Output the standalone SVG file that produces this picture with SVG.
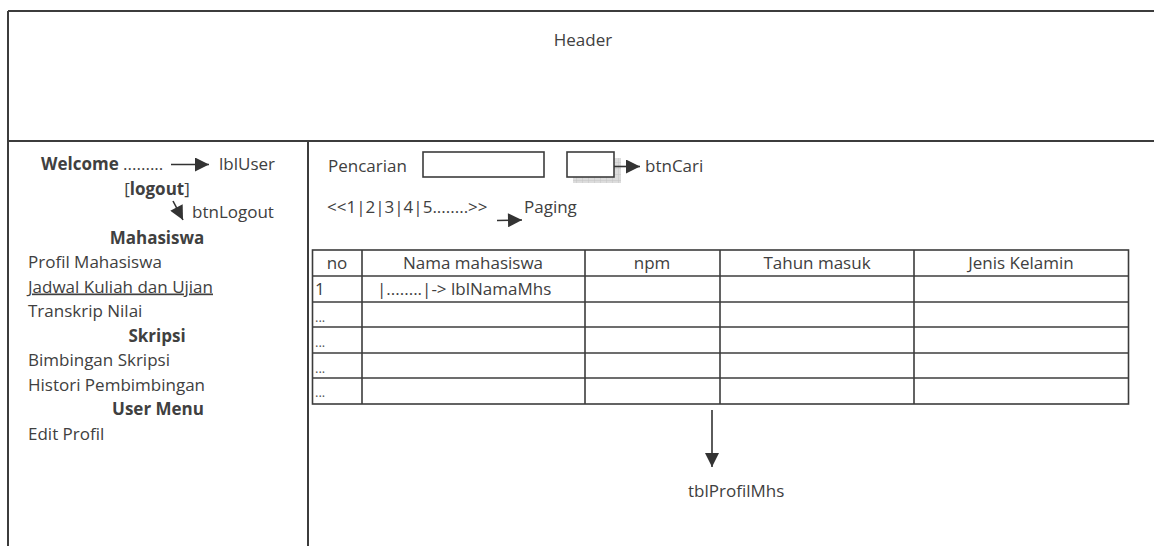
<svg xmlns="http://www.w3.org/2000/svg" width="1154" height="546" viewBox="0 0 1154 546">
<style>
text{font-family:"Open Sans","Liberation Sans",sans-serif;font-size:17px;fill:#404040}
.b{font-weight:bold}
.m{text-anchor:middle}
.ln{stroke:#3c3c3c;stroke-width:2;fill:none}
.tb{stroke:#3c3c3c;stroke-width:1.6;fill:none}
.ar{stroke:#333;stroke-width:1.6;fill:none}
.dots{font-size:13px;fill:#555}
</style>
<defs>
<marker id="ahL" viewBox="0 0 10 10" refX="10" refY="5" markerWidth="16" markerHeight="14" markerUnits="userSpaceOnUse" orient="auto">
<path d="M0,0 L10,5 L0,10 Z" fill="#333"/>
</marker>
<pattern id="hatch" width="6" height="6" patternUnits="userSpaceOnUse">
<rect width="6" height="6" fill="#dcdcdc"/>
<path d="M0,0 H6 M0,0 V6" stroke="#c4c4c4" stroke-width="1"/>
</pattern>
</defs>

<g id="frame">
<line class="ln" x1="8" y1="11" x2="1154" y2="11"/>
<line class="ln" x1="8" y1="11" x2="8" y2="546"/>
<line class="ln" x1="8" y1="141" x2="1154" y2="141"/>
<line class="ln" x1="308" y1="141" x2="308" y2="546"/>
</g>

<g id="header">
<text class="m" x="583" y="46">Header</text>
</g>

<g id="sidebar">
<text x="41" y="170"><tspan class="b">Welcome</tspan> .........</text>
<text x="219" y="170">lblUser</text>
<text class="m" x="157" y="194.5">[<tspan class="b">logout</tspan>]</text>
<text x="192" y="218">btnLogout</text>
<text class="b m" x="157" y="243.5">Mahasiswa</text>
<text x="28" y="268">Profil Mahasiswa</text>
<text x="28" y="292.5" text-decoration="underline">Jadwal Kuliah dan Ujian</text>
<text x="28" y="317">Transkrip Nilai</text>
<text class="b m" x="157" y="341.5">Skripsi</text>
<text x="28" y="366">Bimbingan Skripsi</text>
<text x="28" y="390.5">Histori Pembimbingan</text>
<text class="b m" x="158" y="415">User Menu</text>
<text x="28" y="439.5">Edit Profil</text>
</g>

<g id="search">
<text x="328" y="172">Pencarian</text>
<rect x="423" y="152" width="121" height="25" fill="#fff" stroke="#3c3c3c" stroke-width="1.6"/>
<rect x="573" y="158" width="48" height="25" fill="url(#hatch)"/>
<rect x="567" y="152" width="47" height="25" fill="#fff" stroke="#3c3c3c" stroke-width="1.6"/>
<text x="645" y="172">btnCari</text>
</g>

<g id="paging">
<text x="327" y="213">&lt;&lt;1|2|3|4|5........&gt;&gt;</text>
<text x="524" y="213">Paging</text>
</g>

<g id="table">
<rect class="tb" x="312.5" y="250" width="816" height="154"/>
<line class="tb" x1="312" y1="276" x2="1129" y2="276"/>
<line class="tb" x1="312" y1="302" x2="1129" y2="302"/>
<line class="tb" x1="312" y1="327" x2="1129" y2="327"/>
<line class="tb" x1="312" y1="353" x2="1129" y2="353"/>
<line class="tb" x1="312" y1="378" x2="1129" y2="378"/>
<line class="tb" x1="362" y1="250" x2="362" y2="404"/>
<line class="tb" x1="585" y1="250" x2="585" y2="404"/>
<line class="tb" x1="720" y1="250" x2="720" y2="404"/>
<line class="tb" x1="914" y1="250" x2="914" y2="404"/>
<text class="m" x="337" y="268.5">no</text>
<text class="m" x="473" y="268.5">Nama mahasiswa</text>
<text class="m" x="652" y="268.5">npm</text>
<text class="m" x="817" y="268.5">Tahun masuk</text>
<text class="m" x="1021" y="268.5">Jenis Kelamin</text>
<text x="315" y="295">1</text>
<text x="377" y="295">|........|-&gt; lblNamaMhs</text>
<text class="dots" x="315" y="322">...</text>
<text class="dots" x="315" y="347">...</text>
<text class="dots" x="315" y="373">...</text>
<text class="dots" x="315" y="397">...</text>
<text x="688" y="497">tblProfilMhs</text>
</g>

<g id="connectors">
<line class="ar" x1="171" y1="164.5" x2="209" y2="164.5" marker-end="url(#ahL)"/>
<line class="ar" x1="173" y1="201" x2="183" y2="220" marker-end="url(#ahL)"/>
<line class="ar" x1="614" y1="166.5" x2="640" y2="166.5" marker-end="url(#ahL)"/>
<line class="ar" x1="497" y1="220.5" x2="522" y2="220" marker-end="url(#ahL)"/>
<line class="ar" x1="712" y1="410" x2="712" y2="467" marker-end="url(#ahL)"/>
</g>
</svg>
